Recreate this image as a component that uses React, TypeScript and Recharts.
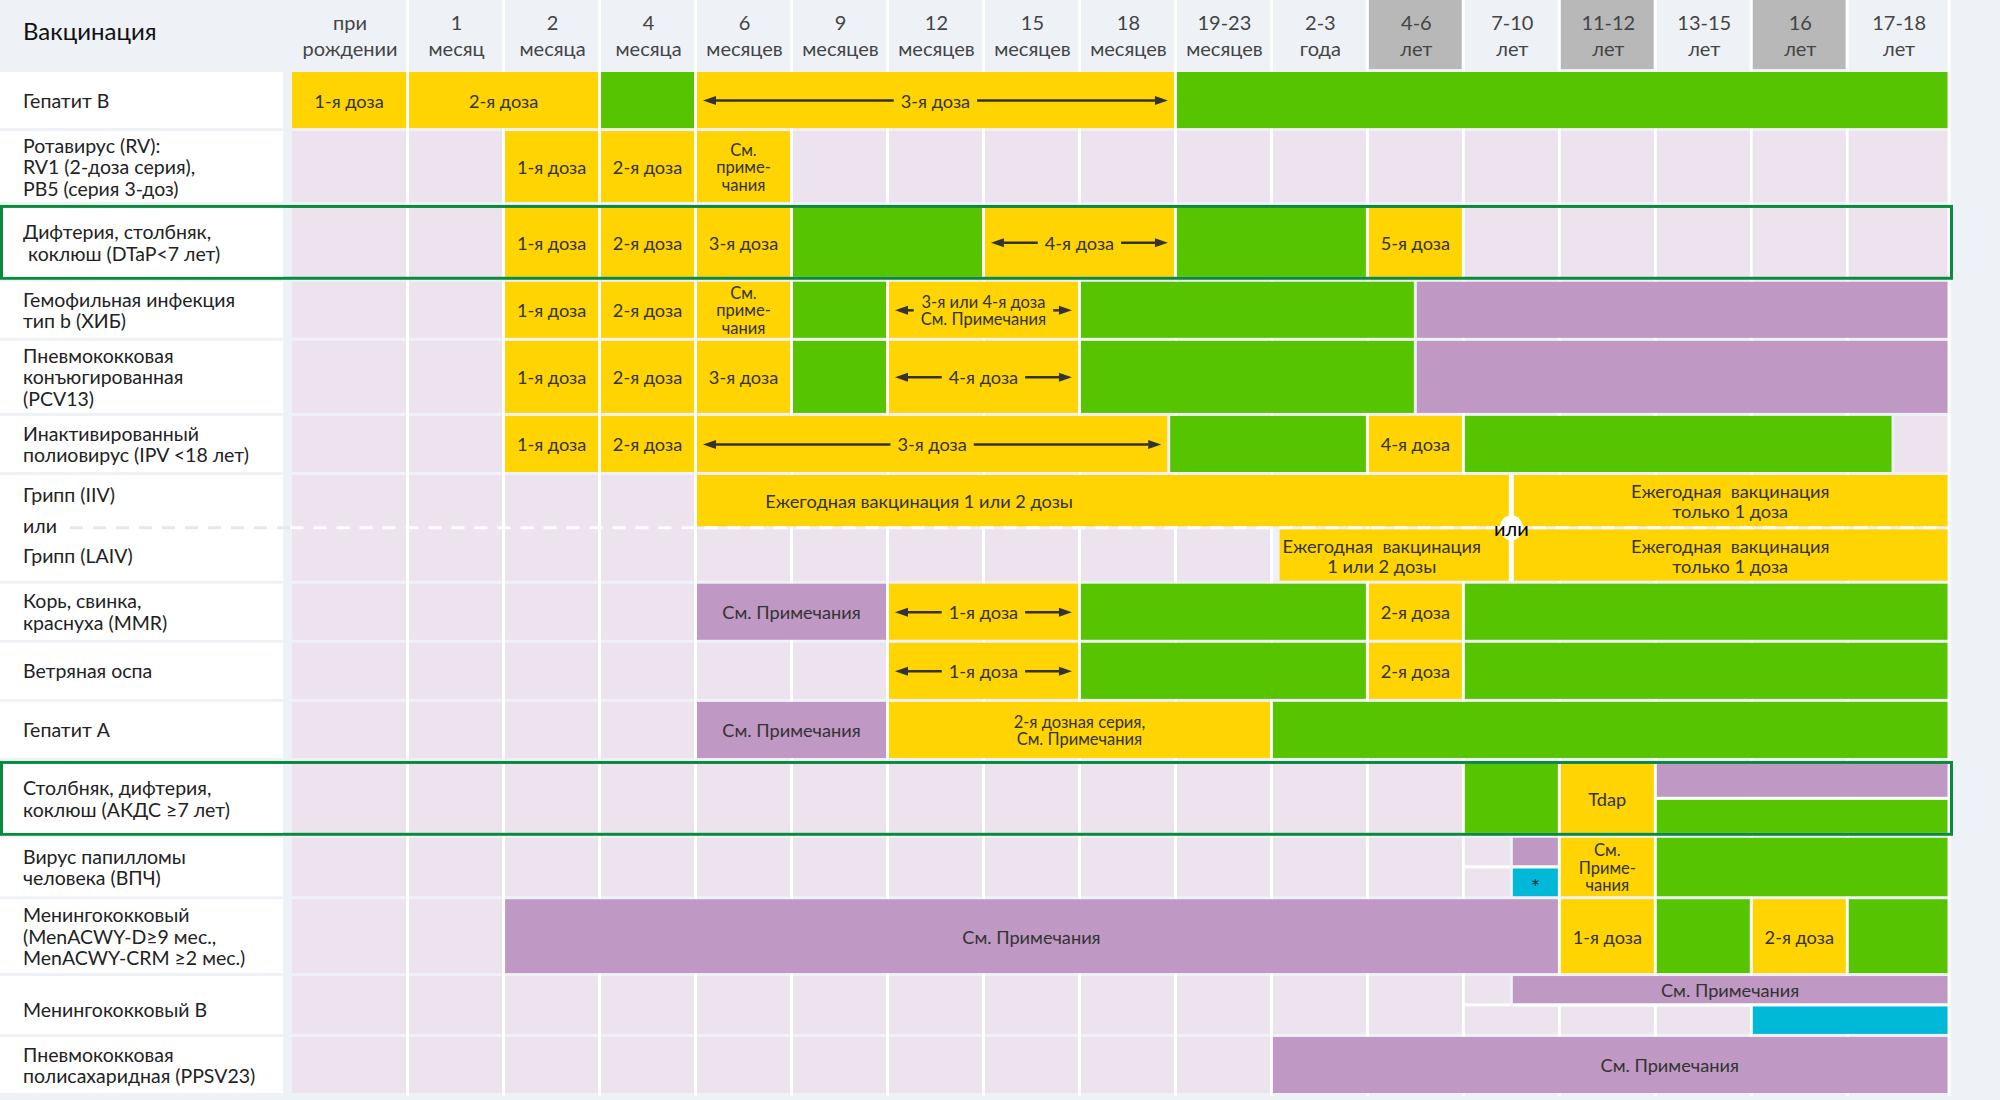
import React from "react";
import { ComposedChart, XAxis, YAxis, ReferenceArea, Scatter } from "recharts";

type Kind = "dose" | "catchup" | "risk" | "shared";
type Part = "top" | "bottom";
interface Span {
  from: number;
  to: number;
  kind: Kind;
  text?: string;
  arrows?: boolean;
  part?: Part;
  at?: number;
}

// header ticks
const AGE_TOP = ["при", "1", "2", "4", "6", "9", "12", "15", "18", "19-23", "2-3", "4-6", "7-10", "11-12", "13-15", "16", "17-18"];
const AGE_BOTTOM = ["рождении", "месяц", "месяца", "месяца", "месяцев", "месяцев", "месяцев", "месяцев", "месяцев", "месяцев", "года", "лет", "лет", "лет", "лет", "лет", "лет"];
const KEY_VISITS = [11, 13, 15];
const AGE_WEIGHTS = [1.22, 1, 1, 1, 1, 1, 1, 1, 1, 1, 1, 1, 1, 1, 1, 1, 1.06];

// row labels
const VACCINES: string[][] = [
  ["Гепатит В"],
  ["Ротавирус (RV):", "RV1 (2-доза серия),", "РВ5 (серия 3-доз)"],
  ["Дифтерия, столбняк,", " коклюш (DTaP<7 лет)"],
  ["Гемофильная инфекция", "тип b (ХИБ)"],
  ["Пневмококковая", "конъюгированная", "(PCV13)"],
  ["Инактивированный", "полиовирус (IPV <18 лет)"],
  ["Грипп (IIV)", "или", "Грипп (LAIV)"],
  ["Корь, свинка,", "краснуха (MMR)"],
  ["Ветряная оспа"],
  ["Гепатит А"],
  ["Столбняк, дифтерия,", "коклюш (АКДС ≥7 лет)"],
  ["Вирус папилломы", "человека (ВПЧ)"],
  ["Менингококковый", "(MenACWY-D≥9 мес.,", "MenACWY-CRM ≥2 мес.)"],
  ["Менингококковый В"],
  ["Пневмококковая", "полисахаридная (PPSV23)"],
];
const ROW_WEIGHTS = [1, 1.25, 1.3, 1, 1.27, 1, 1.84, 1, 1, 1, 1.3, 1.04, 1.3, 1.03, 1];
const FRAMED_ROWS = [2, 10];
const FLU_ROW = 6;

// schedule spans, in column index units (0 = at birth ... 16 = 17-18 y)
const hepB: Span[] = [
  { from: 0, to: 1, kind: "dose", text: "1-я доза" },
  { from: 1, to: 3, kind: "dose", text: "2-я доза" },
  { from: 3, to: 4, kind: "catchup" },
  { from: 4, to: 9, kind: "dose", text: "3-я доза", arrows: true },
  { from: 9, to: 17, kind: "catchup" },
];
const rota: Span[] = [
  { from: 2, to: 3, kind: "dose", text: "1-я доза" },
  { from: 3, to: 4, kind: "dose", text: "2-я доза" },
  { from: 4, to: 5, kind: "dose", text: "См.\nприме-\nчания" },
];
const dtap: Span[] = [
  { from: 2, to: 3, kind: "dose", text: "1-я доза" },
  { from: 3, to: 4, kind: "dose", text: "2-я доза" },
  { from: 4, to: 5, kind: "dose", text: "3-я доза" },
  { from: 5, to: 7, kind: "catchup" },
  { from: 7, to: 9, kind: "dose", text: "4-я доза", arrows: true },
  { from: 9, to: 11, kind: "catchup" },
  { from: 11, to: 12, kind: "dose", text: "5-я доза" },
];
const hib: Span[] = [
  { from: 2, to: 3, kind: "dose", text: "1-я доза" },
  { from: 3, to: 4, kind: "dose", text: "2-я доза" },
  { from: 4, to: 5, kind: "dose", text: "См.\nприме-\nчания" },
  { from: 5, to: 6, kind: "catchup" },
  { from: 6, to: 8, kind: "dose", text: "3-я или 4-я доза\nСм. Примечания", arrows: true },
  { from: 8, to: 11.5, kind: "catchup" },
  { from: 11.5, to: 17, kind: "risk" },
];
const pcv: Span[] = [
  { from: 2, to: 3, kind: "dose", text: "1-я доза" },
  { from: 3, to: 4, kind: "dose", text: "2-я доза" },
  { from: 4, to: 5, kind: "dose", text: "3-я доза" },
  { from: 5, to: 6, kind: "catchup" },
  { from: 6, to: 8, kind: "dose", text: "4-я доза", arrows: true },
  { from: 8, to: 11.5, kind: "catchup" },
  { from: 11.5, to: 17, kind: "risk" },
];
const ipv: Span[] = [
  { from: 2, to: 3, kind: "dose", text: "1-я доза" },
  { from: 3, to: 4, kind: "dose", text: "2-я доза" },
  { from: 4, to: 8.93, kind: "dose", text: "3-я доза", arrows: true },
  { from: 8.93, to: 11, kind: "catchup" },
  { from: 11, to: 12, kind: "dose", text: "4-я доза" },
  { from: 12, to: 16.45, kind: "catchup" },
];
const flu: Span[] = [
  { from: 4, to: 12.5, kind: "dose", text: "Ежегодная вакцинация 1 или 2 дозы", part: "top", at: 6.33 },
  { from: 12.5, to: 17, kind: "dose", text: "Ежегодная  вакцинация\nтолько 1 доза", part: "top" },
  { from: 10.07, to: 12.5, kind: "dose", text: "Ежегодная  вакцинация\n1 или 2 дозы", part: "bottom", at: 11.15 },
  { from: 12.5, to: 17, kind: "dose", text: "Ежегодная  вакцинация\nтолько 1 доза", part: "bottom" },
];
const mmr: Span[] = [
  { from: 4, to: 6, kind: "risk", text: "См. Примечания" },
  { from: 6, to: 8, kind: "dose", text: "1-я доза", arrows: true },
  { from: 8, to: 11, kind: "catchup" },
  { from: 11, to: 12, kind: "dose", text: "2-я доза" },
  { from: 12, to: 17, kind: "catchup" },
];
const varicella: Span[] = [
  { from: 6, to: 8, kind: "dose", text: "1-я доза", arrows: true },
  { from: 8, to: 11, kind: "catchup" },
  { from: 11, to: 12, kind: "dose", text: "2-я доза" },
  { from: 12, to: 17, kind: "catchup" },
];
const hepA: Span[] = [
  { from: 4, to: 6, kind: "risk", text: "См. Примечания" },
  { from: 6, to: 10, kind: "dose", text: "2-я дозная серия,\nСм. Примечания" },
  { from: 10, to: 17, kind: "catchup" },
];
const tdap: Span[] = [
  { from: 12, to: 13, kind: "catchup" },
  { from: 13, to: 14, kind: "dose", text: "Tdap" },
  { from: 14, to: 17, kind: "risk", part: "top" },
  { from: 14, to: 17, kind: "catchup", part: "bottom" },
];
const hpv: Span[] = [
  { from: 12.5, to: 13, kind: "risk", part: "top" },
  { from: 12.5, to: 13, kind: "shared", text: "*", part: "bottom" },
  { from: 13, to: 14, kind: "dose", text: "См.\nПриме-\nчания" },
  { from: 14, to: 17, kind: "catchup" },
];
const menACWY: Span[] = [
  { from: 2, to: 13, kind: "risk", text: "См. Примечания" },
  { from: 13, to: 14, kind: "dose", text: "1-я доза" },
  { from: 14, to: 15, kind: "catchup" },
  { from: 15, to: 16, kind: "dose", text: "2-я доза" },
  { from: 16, to: 17, kind: "catchup" },
];
const menB: Span[] = [
  { from: 12.5, to: 17, kind: "risk", text: "См. Примечания", part: "top" },
  { from: 15, to: 17, kind: "shared", part: "bottom" },
];
const ppsv: Span[] = [{ from: 10, to: 17, kind: "risk", text: "См. Примечания", at: 14.15 }];

const SCHEDULE: Span[][] = [hepB, rota, dtap, hib, pcv, ipv, flu, mmr, varicella, hepA, tdap, hpv, menACWY, menB, ppsv];

const COLORS: Record<Kind | "empty", string> = {
  dose: "#ffd400",
  catchup: "#56c500",
  risk: "#bf98c3",
  shared: "#00b9d8",
  empty: "#ede3ef",
};
const PAGE_BG = "#eef2f7";
const TEXT = "#333333";
const FONT = "Lato, 'Noto Sans', sans-serif";
const CELL_FONT = 18.2;
const CELL_FONT_MULTI = 16.5;
const LABEL_FONT = 19.5;

const W = 2000;
const H = 1100;
const MARGIN = { top: 0, right: 51, bottom: 4, left: 0 };
const Y_AXIS_W = 290.5;
const X_AXIS_H = 72;

const cumulate = (ws: number[]) => ws.reduce<number[]>((acc, w) => [...acc, acc[acc.length - 1] + w], [0]);
const colEdges = cumulate(AGE_WEIGHTS);
const rowEdges = cumulate(ROW_WEIGHTS);
const X_MAX = colEdges[colEdges.length - 1];
const Y_MAX = rowEdges[rowEdges.length - 1];
const X_UNIT = (W - Y_AXIS_W - MARGIN.right) / X_MAX;
const Y_UNIT = (H - X_AXIS_H - MARGIN.bottom) / Y_MAX;
const colCenters = AGE_WEIGHTS.map((w, i) => colEdges[i] + w / 2);
const rowCenters = ROW_WEIGHTS.map((w, i) => rowEdges[i] + w / 2);

// one anchor per age column so both axes have data to work from
const anchors = colCenters.map((x, i) => ({ x, y: rowCenters[i % rowCenters.length] }));

// column index (may be fractional) -> axis value
const toX = (c: number) => {
  const i = Math.min(Math.floor(c), AGE_WEIGHTS.length - 1);
  return colEdges[i] + (c - i) * AGE_WEIGHTS[i];
};

const nearest = (arr: number[], v: number) =>
  arr.reduce((best, a, i) => (Math.abs(a - v) < Math.abs(arr[best] - v) ? i : best), 0);

let ctx: CanvasRenderingContext2D | null = null;
function textWidth(s: string, size: number) {
  if (!ctx) ctx = document.createElement("canvas").getContext("2d");
  if (!ctx) return s.length * size * 0.5;
  ctx.font = `${size}px Lato`;
  return ctx.measureText(s).width;
}

// lavender cells for every piece of a column not covered by a span
function emptySpans(row: number): Span[] {
  const spans = SCHEDULE[row];
  const out: Span[] = [];
  for (let c = 0; c < AGE_TOP.length; c++) {
    const split = spans.some((s) => s.part && s.from < c + 1 && s.to > c);
    const pieces: (Part | undefined)[] = split ? ["top", "bottom"] : [undefined];
    for (const part of pieces) {
      const cover = spans
        .filter((s) => !s.part || s.part === part)
        .filter((s) => s.from < c + 1 && s.to > c)
        .sort((a, b) => a.from - b.from);
      let cur = c;
      for (const s of cover) {
        if (s.from - cur >= 0.1) out.push({ from: cur, to: s.from, kind: "dose", part });
        cur = Math.max(cur, s.to);
      }
      if (c + 1 - cur >= 0.1) out.push({ from: cur, to: c + 1, kind: "dose", part });
    }
  }
  return out;
}

function Arrow({ tip, tail, y }: { tip: number; tail: number; y: number }) {
  const dir = tip > tail ? 1 : -1;
  const head = 13;
  const base = tip - dir * head;
  return (
    <g>
      {(base - tail) * dir > 0 && <line x1={tail} y1={y} x2={base} y2={y} stroke={TEXT} strokeWidth={2.5} />}
      <polygon points={`${tip},${y} ${base},${y - 4.5} ${base},${y + 4.5}`} fill={TEXT} />
    </g>
  );
}

function cellShape(row: number, s: Span, fill: string) {
  return (p: any) => {
    const framed = FRAMED_ROWS.includes(row);
    let top = p.y + (framed ? 3 : 0);
    let bot = p.y + p.height - (framed ? 5 : 3);
    const mid = (top + bot) / 2;
    const x0 = p.x + 1.5;
    const x1 = p.x + p.width - 1.5;
    let strip = null;
    if (s.part === "top") {
      bot = mid - 1.5;
      if (row !== FLU_ROW) strip = <rect x={x0} y={bot} width={x1 - x0} height={3} fill="#ffffff" />;
    } else if (s.part === "bottom") {
      top = mid + 1.5;
    }
    const lines = s.text ? s.text.split("\n") : [];
    const isFlu = row === FLU_ROW;
    const size = s.text === "*" ? 22 : lines.length > 1 && !isFlu ? CELL_FONT_MULTI : CELL_FONT;
    const lh = isFlu ? 20 : 17.5;
    const cx =
      s.at !== undefined
        ? p.x + ((toX(s.at) - toX(s.from)) / (toX(s.to) - toX(s.from))) * p.width
        : (x0 + x1) / 2;
    const cy = (top + bot) / 2 + (s.text === "*" ? 4 : 0.5);
    const tw = Math.max(0, ...lines.map((l) => textWidth(l, size)));
    return (
      <g>
        <rect x={x0} y={top} width={Math.max(0, x1 - x0)} height={Math.max(0, bot - top)} fill={fill} />
        {strip}
        {lines.map((l, k) => (
          <text
            key={k}
            x={cx}
            y={cy + (k - (lines.length - 1) / 2) * lh}
            textAnchor="middle"
            dominantBaseline="central"
            fontSize={size}
            fill={TEXT}
            fontFamily={FONT}
            style={{ whiteSpace: "pre" }}
          >
            {l}
          </text>
        ))}
        {s.arrows && (
          <g>
            <Arrow tip={x0 + 6} tail={cx - tw / 2 - 7} y={cy} />
            <Arrow tip={x1 - 6} tail={cx + tw / 2 + 7} y={cy} />
          </g>
        )}
      </g>
    );
  };
}

function HeaderTick(props: any) {
  const { x, payload } = props;
  const i = nearest(colCenters, payload.value);
  const w = AGE_WEIGHTS[i] * X_UNIT;
  const left = x - w / 2;
  const right = x + w / 2;
  return (
    <g>
      {i === 0 && (
        <text x={23} y={30} fontSize={24} fill="#111111" dominantBaseline="central" fontFamily={FONT}>
          Вакцинация
        </text>
      )}
      {KEY_VISITS.includes(i) && <rect x={left + 1.5} y={0} width={w - 3} height={69} fill="#b8b8b8" />}
      <rect x={right - 1.5} y={0} width={3} height={X_AXIS_H} fill="#ffffff" />
      <text x={x + 1} y={22} textAnchor="middle" dominantBaseline="central" fontSize={20} fill="#444444" fontFamily={FONT}>
        {AGE_TOP[i]}
      </text>
      <text x={x + 1} y={48} textAnchor="middle" dominantBaseline="central" fontSize={20} fill="#444444" fontFamily={FONT}>
        {AGE_BOTTOM[i]}
      </text>
    </g>
  );
}

function RowTick(props: any) {
  const { y, payload } = props;
  const i = nearest(rowCenters, payload.value);
  const h = ROW_WEIGHTS[i] * Y_UNIT;
  const rowTop = y - h / 2;
  const framed = FRAMED_ROWS.includes(i);
  const top = rowTop + (framed ? 3 : 0);
  const bot = rowTop + h - (framed ? 5 : 3);
  const mid = (top + bot) / 2;
  const lines = VACCINES[i];
  const common = {
    fontSize: LABEL_FONT,
    fill: "#222222",
    fontFamily: FONT,
    dominantBaseline: "central" as const,
    style: { whiteSpace: "pre" as const },
  };
  let labels;
  if (i === FLU_ROW) {
    labels = (
      <g>
        <line x1={70} y1={mid} x2={290} y2={mid} stroke="#e4e8ef" strokeWidth={3} strokeDasharray="13 10" />
        <text x={23} y={(top + mid) / 2 - 7} {...common}>{lines[0]}</text>
        <text x={23} y={mid - 2} {...common}>{lines[1]}</text>
        <text x={23} y={(mid + bot) / 2 + 1} {...common}>{lines[2]}</text>
      </g>
    );
  } else {
    const shift = i === 13 ? 5 : 0;
    labels = lines.map((l, k) => (
      <text key={k} x={23} y={mid + shift + (k - (lines.length - 1) / 2) * 21.5} {...common}>
        {l}
      </text>
    ));
  }
  return (
    <g>
      <rect x={framed ? 3 : 0} y={top} width={framed ? 280 : 283} height={bot - top} fill="#ffffff" />
      {labels}
    </g>
  );
}

export default function App() {
  const cells: React.ReactElement[] = [];
  SCHEDULE.forEach((spans, row) => {
    const all = [
      ...emptySpans(row).map((s) => ({ s, fill: COLORS.empty })),
      ...spans.map((s) => ({ s, fill: COLORS[s.kind] })),
    ];
    all.forEach(({ s, fill }, k) => {
      cells.push(
        <ReferenceArea
          key={`c-${row}-${k}`}
          x1={toX(s.from)}
          x2={toX(s.to)}
          y1={rowEdges[row]}
          y2={rowEdges[row + 1]}
          ifOverflow="visible"
          shape={cellShape(row, s, fill)}
        />
      );
    });
  });

  const separators = colEdges.slice(1).map((e, k) => (
    <ReferenceArea
      key={`sep-${k}`}
      x1={e - 0.005}
      x2={e + 0.005}
      y1={0}
      y2={Y_MAX}
      ifOverflow="visible"
      shape={(p: any) => <rect x={p.x + p.width / 2 - 1.5} y={p.y} width={3} height={p.height} fill="#ffffff" />}
    />
  ));

  const fluOverlay = (
    <ReferenceArea
      key="flu"
      x1={0}
      x2={X_MAX}
      y1={rowEdges[FLU_ROW]}
      y2={rowEdges[FLU_ROW + 1]}
      ifOverflow="visible"
      shape={(p: any) => {
        const top = p.y;
        const bot = p.y + p.height - 3;
        const mid = (top + bot) / 2;
        const ox = p.x + (toX(12.5) / X_MAX) * p.width;
        return (
          <g>
            <line x1={p.x} y1={mid} x2={p.x + p.width} y2={mid} stroke="#ffffff" strokeWidth={3} strokeDasharray="13 10" />
            <rect x={ox - 2.5} y={top} width={5} height={bot - top} fill="#ffffff" />
            <ellipse cx={ox} cy={mid} rx={11.5} ry={12.5} fill="#ffffff" />
            <text x={ox} y={mid} textAnchor="middle" dominantBaseline="central" fontSize={20} fill="#000000" fontFamily={FONT}>
              или
            </text>
          </g>
        );
      }}
    />
  );

  const frames = FRAMED_ROWS.map((row) => (
    <ReferenceArea
      key={`f-${row}`}
      x1={0}
      x2={X_MAX}
      y1={rowEdges[row]}
      y2={rowEdges[row + 1]}
      ifOverflow="visible"
      shape={(p: any) => (
        <rect x={1.5} y={p.y + 1.5} width={p.x + p.width + 1} height={p.height - 5} fill="none" stroke="#0a8a3c" strokeWidth={3} />
      )}
    />
  ));

  return (
    <div style={{ position: "absolute", left: 0, top: 0, width: W, height: H, background: PAGE_BG }}>
      <ComposedChart width={W} height={H} margin={MARGIN} data={anchors}>
        <XAxis
          type="number"
          dataKey="x"
          orientation="top"
          domain={[0, X_MAX]}
          allowDataOverflow
          ticks={colCenters}
          interval={0}
          height={X_AXIS_H}
          axisLine={false}
          tickLine={false}
          tick={(props: any) => <HeaderTick {...props} />}
        />
        <YAxis
          type="number"
          dataKey="y"
          domain={[0, Y_MAX]}
          reversed
          allowDataOverflow
          ticks={rowCenters}
          interval={0}
          width={Y_AXIS_W}
          axisLine={false}
          tickLine={false}
          tick={(props: any) => <RowTick {...props} />}
        />
        {separators}
        {cells}
        {fluOverlay}
        {frames}
        <Scatter dataKey="y" fill="none" shape={() => <g />} isAnimationActive={false} />
      </ComposedChart>
    </div>
  );
}
